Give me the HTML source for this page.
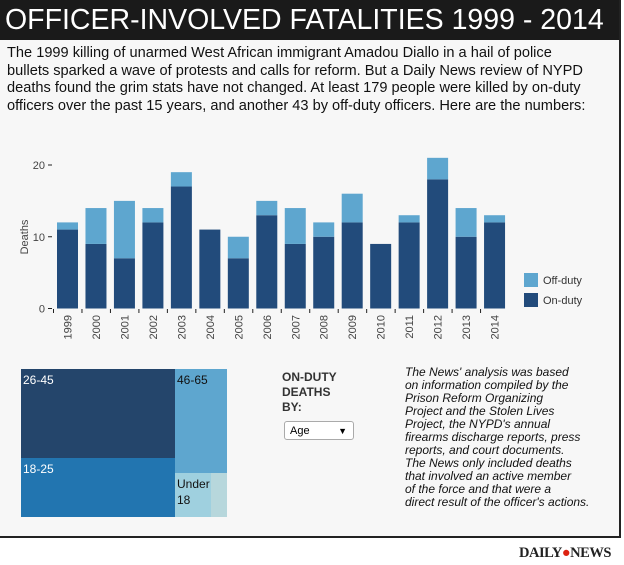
<!DOCTYPE html>
<html><head><meta charset="utf-8"><style>
body{margin:0;width:624px;height:565px;background:#fff;font-family:"Liberation Sans",Arial,sans-serif;position:relative;overflow:hidden}
#box{position:absolute;left:0;top:0;width:619px;height:536px;background:#f7f7f7;border-right:2px solid #222;border-bottom:2px solid #222}
#hdr{position:absolute;left:0;top:0;width:619px;height:40px;background:#1a1a1a;color:#fff;font-size:28.5px;line-height:40px;padding-left:5px;box-sizing:border-box;letter-spacing:0px;white-space:nowrap}
#intro{position:absolute;left:7px;top:45px;width:615px;font-size:14.6px;line-height:17.5px;color:#111;white-space:nowrap}
.tm{position:absolute;font-size:12px;color:#fff;padding:3px 2px;box-sizing:border-box;line-height:16px}
#by{position:absolute;left:282px;top:370px;font-size:12px;font-weight:bold;color:#333;line-height:15px}
#sel{position:absolute;left:284px;top:421px;width:70px;height:19px;border:1px solid #aaa;border-radius:3px;background:#fff;font-size:11px;line-height:19px;padding-left:5px;box-sizing:border-box}
#note{position:absolute;left:405px;top:366px;font-size:12px;font-style:italic;line-height:13px;color:#111;white-space:nowrap}
#logo{position:absolute;left:519px;top:545px;font-family:"Liberation Serif",serif;font-weight:bold;font-size:14.5px;color:#222;letter-spacing:-0.5px}
</style></head><body>
<div id="box"></div>
<div id="hdr">OFFICER-INVOLVED FATALITIES 1999 - 2014</div>
<div id="intro">The 1999 killing of unarmed West African immigrant Amadou Diallo in a hail of police<br>bullets sparked a wave of protests and calls for reform. But a Daily News review of NYPD<br>deaths found the grim stats have not changed. At least 179 people were killed by on-duty<br>officers over the past 15 years, and another 43 by off-duty officers. Here are the numbers:</div>
<svg id="chart" width="624" height="345" style="position:absolute;left:0;top:0"></svg>
<div class="tm" style="left:21px;top:369px;width:154px;height:89px;background:#24456b">26-45</div>
<div class="tm" style="left:21px;top:458px;width:154px;height:59px;background:#2275b0">18-25</div>
<div class="tm" style="left:175px;top:369px;width:52px;height:104px;background:#5ea6cf;color:#111">46-65</div>
<div class="tm" style="left:175px;top:473px;width:36px;height:44px;background:#9fd0df;color:#111">Under 18</div>
<div class="tm" style="left:211px;top:473px;width:16px;height:44px;background:#b7d7dc"></div>
<div id="by">ON-DUTY<br>DEATHS<br>BY:</div>
<div id="sel">Age<span style="position:absolute;right:6px;top:0;font-size:9px">▼</span></div>
<div id="note">The News' analysis was based<br>on information compiled by the<br>Prison Reform Organizing<br>Project and the Stolen Lives<br>Project, the NYPD's annual<br>firearms discharge reports, press<br>reports, and court documents.<br>The News only included deaths<br>that involved an active member<br>of the force and that were a<br>direct result of the officer's actions.</div>
<div id="logo">DAILY<span style="color:#d21">●</span>NEWS</div>
<script>
const years=["1999","2000","2001","2002","2003","2004","2005","2006","2007","2008","2009","2010","2011","2012","2013","2014"];
const onDuty=[11,9,7,12,17,11,7,13,9,10,12,9,12,18,10,12];
const offDuty=[1,5,8,2,2,0,3,2,5,2,4,0,1,3,4,1];
const yTicks=[0,10,20];
const svg=document.getElementById('chart');const NS='http://www.w3.org/2000/svg';
function y(v){return 308.5-v*7.175;}
function x(i){return 57+i*28.47;}
const bw=21;
function mk(t,a,p){const e=document.createElementNS(NS,t);for(const k in a)e.setAttribute(k,a[k]);(p||svg).appendChild(e);return e;}
yTicks.forEach(t=>{
 const l=mk('line',{x1:48,x2:52,y1:y(t),y2:y(t),stroke:'#222'});
 
 
 const tx=mk('text',{x:45,y:y(t)+4,'text-anchor':'end','font-size':11,fill:'#444','font-family':'Liberation Sans, sans-serif'});tx.textContent=t;
 
 
});
const yt=mk('text',{transform:'translate(28,237) rotate(-90)','text-anchor':'middle','font-size':11,fill:'#444','font-family':'Liberation Sans, sans-serif'});yt.textContent='Deaths';


years.forEach((yr,i)=>{
 const b1=mk('rect',{x:x(i),y:y(onDuty[i]),width:bw,height:y(0)-y(onDuty[i]),fill:'#224b7b'});
 
 
 if(offDuty[i]>0){const b2=mk('rect',{x:x(i),y:y(onDuty[i]+offDuty[i]),width:bw,height:y(onDuty[i])-y(onDuty[i]+offDuty[i]),fill:'#5ea6cf'});
 
 }
 const tk=mk('line',{x1:x(i)-3.5,x2:x(i)-3.5,y1:309,y2:313,stroke:'#222'});
 
 
 const tx=mk('text',{transform:`translate(${x(i)+bw/2+4},315) rotate(-90)`,'text-anchor':'end','font-size':11,fill:'#444','font-family':'Liberation Sans, sans-serif'});tx.textContent=yr;
 
 
});
[['Off-duty','#5ea6cf',273],['On-duty','#224b7b',293]].forEach(l=>{
 const r=mk('rect',{x:524,y:l[2],width:14,height:14,fill:l[1]});
 
 
 const t=mk('text',{x:543,y:l[2]+11,'font-size':11,fill:'#333','font-family':'Liberation Sans, sans-serif'});t.textContent=l[0];
 
 
});
</script>
</body></html>
